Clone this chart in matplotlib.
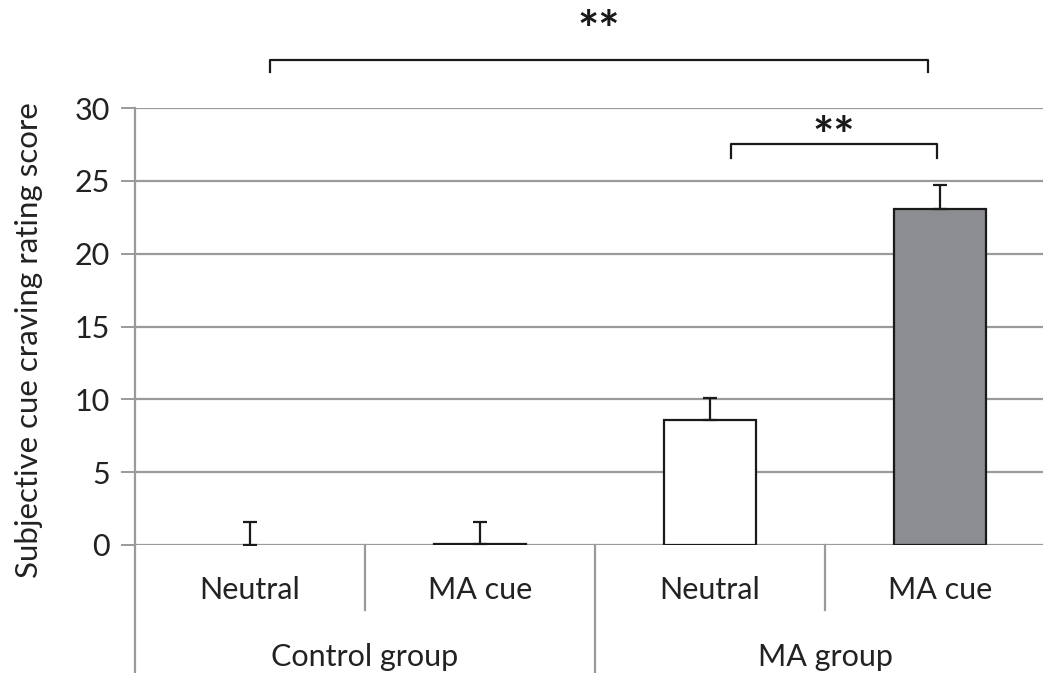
import matplotlib
matplotlib.use("Agg")
import matplotlib.pyplot as plt
from matplotlib.lines import Line2D
import matplotlib.transforms as mtransforms

conditions = ["Neutral", "MA cue", "Neutral", "MA cue"]
groups = ["Control group", "MA group"]
means = [0.0, 0.08, 8.6, 23.1]
errors = [1.58, 1.5, 1.5, 1.62]
colors = ["white", "white", "white", "#8c8d91"]
yticks = [0, 5, 10, 15, 20, 25, 30]
ylabel = "Subjective cue craving rating score"

plt.rcParams['font.family'] = ['Lato', 'DejaVu Sans']
FS = 22

fig = plt.figure(figsize=(10.43, 6.73), dpi=100)
W, H = 1043, 673
ax = fig.add_axes([135 / W, (H - 545) / H, 920 / W, 437 / H])

x = list(range(len(means)))
edges = ["#1a1a1a" if m > 0 else "none" for m in means]
ax.bar(x, means, width=0.4, color=colors, edgecolor=edges, linewidth=1.6, zorder=3)
ax.errorbar(x, means, yerr=[[0] * len(errors), errors], fmt="none", ecolor="#1a1a1a",
            elinewidth=1.6, capsize=5, capthick=1.6, zorder=4)

ax.set_xlim(-0.5, 3.5)
ax.set_ylim(0, 30)
ax.set_yticks(yticks)
ax.set_yticklabels([str(t) for t in yticks], fontsize=FS, color="#222222")
ax.yaxis.grid(True, color="#9a9a9a", linewidth=1.6, zorder=0)
ax.set_axisbelow(True)
ax.tick_params(axis="y", length=10, width=1.4, color="#9a9a9a", pad=8)
ax.set_xticks([])
for s in ["top", "right", "bottom"]:
    ax.spines[s].set_visible(False)
ax.spines["left"].set_color("#9a9a9a")
ax.spines["left"].set_linewidth(1.6)
ax.set_ylabel(ylabel, fontsize=22.5, color="#222222")
ax.yaxis.set_label_coords(-92 / 920, (545 - 340) / 437)

# Category axis labels
trans = mtransforms.blended_transform_factory(ax.transData, fig.transFigure)
for xi, lab in zip(x, conditions):
    ax.text(xi, (H - 590) / H, lab, transform=trans, ha="center", va="center",
            fontsize=FS, color="#222222")
for gi, g in enumerate(groups):
    ax.text(0.5 + 2 * gi, (H - 657) / H, g, transform=trans, ha="center", va="center",
            fontsize=FS, color="#222222")

# separator lines
sep_col = "#9a9a9a"
ax.add_line(Line2D([0.5, 0.5], [(H - 545) / H, (H - 610) / H], transform=trans,
                   color=sep_col, lw=1.6, clip_on=False))
ax.add_line(Line2D([2.5, 2.5], [(H - 545) / H, (H - 610) / H], transform=trans,
                   color=sep_col, lw=1.6, clip_on=False))
for xs in [-0.5, 1.5, 3.5]:
    ax.add_line(Line2D([xs, xs], [(H - 545) / H, 0], transform=trans,
                       color=sep_col, lw=1.6, clip_on=False))

# significance brackets
def bracket(x1, x2, y, drop, txt_y):
    ax.add_line(Line2D([x1, x1, x2, x2], [y - drop, y, y, y - drop], transform=trans,
                       color="#1a1a1a", lw=1.6, clip_on=False))
    ax.text((x1 + x2) / 2, txt_y, "**", transform=trans, ha="center", va="center",
            fontsize=36, color="#1a1a1a", fontweight="bold")

bracket(0.087, 2.948, (H - 60) / H, 12 / H, (H - 32) / H)
bracket(2.091, 2.987, (H - 144) / H, 14 / H, (H - 138) / H)

fig.savefig("out.png", dpi=100)
